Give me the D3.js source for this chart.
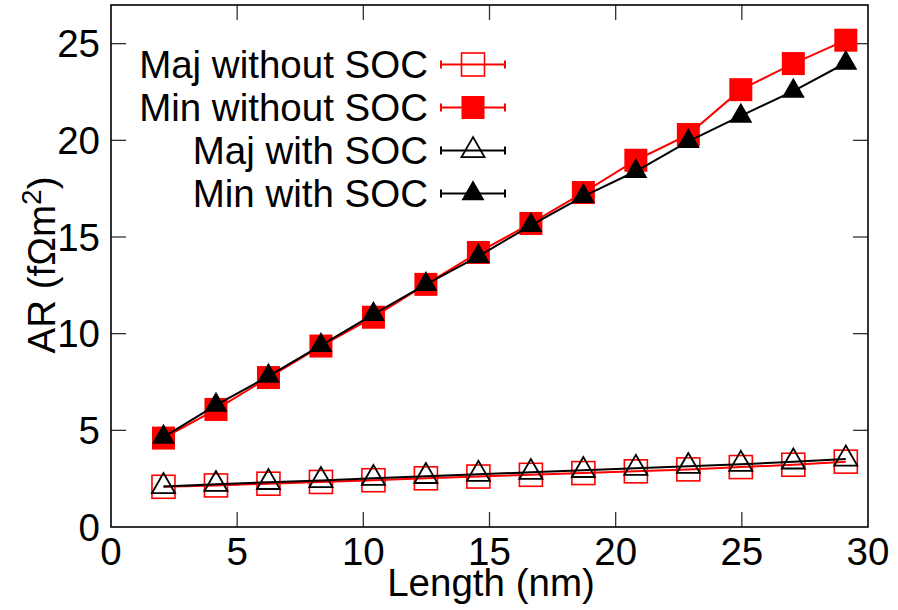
<!DOCTYPE html>
<html>
<head>
<meta charset="utf-8">
<script src="https://cdn.jsdelivr.net/npm/d3@7"></script>
<style>
  body { margin: 0; background: #fff; }
  svg { display: block; font-family: "Liberation Sans", Arial, sans-serif; }
</style>
</head>
<body>
<svg id="chart" width="898" height="610"></svg>
<script>
// lengths in nm
const lengths = [2.08, 4.16, 6.24, 8.32, 10.4, 12.48, 14.56, 16.64, 18.72, 20.8, 22.88, 24.96, 27.04, 29.12];

// AR values (fOhm m^2)
const majWithoutSOC = [2.08, 2.15, 2.24, 2.33, 2.42, 2.52, 2.61, 2.70, 2.79, 2.88, 2.98, 3.10, 3.22, 3.38];
const minWithoutSOC = [4.6, 6.08, 7.73, 9.36, 10.85, 12.55, 14.2, 15.7, 17.3, 18.97, 20.3, 22.62, 23.97, 25.18];
const majWithSOC = [2.10, 2.21, 2.31, 2.41, 2.52, 2.62, 2.73, 2.83, 2.93, 3.04, 3.14, 3.25, 3.37, 3.52];
const minWithSOC = [4.65, 6.3, 7.8, 9.4, 11.0, 12.55, 14.0, 15.6, 17.1, 18.4, 19.95, 21.26, 22.55, 24.0];

const xTicks = [0, 5, 10, 15, 20, 25, 30];
const yTicks = [0, 5, 10, 15, 20, 25];

const series = [
    { name: "Maj without SOC", values: majWithoutSOC, color: "#ff0000", shape: "square", filled: false },
    { name: "Min without SOC", values: minWithoutSOC, color: "#ff0000", shape: "square", filled: true },
    { name: "Maj with SOC", values: majWithSOC, color: "#000000", shape: "triangle", filled: false },
    { name: "Min with SOC", values: minWithSOC, color: "#000000", shape: "triangle", filled: true }
];

const svg = d3.select("#chart");
const margin = { left: 111, right: 868, top: 5, bottom: 527 };
const fontSize = 38.5;

const x = d3.scaleLinear().domain([0, 30]).range([margin.left, margin.right]);
const y = d3.scaleLinear().domain([0, 27]).range([margin.bottom, margin.top]);

// draw a marker centered on (cx, cy)
function drawMarker(g, s, cx, cy) {
    if (s.shape === "square") {
        const side = 23;
        g.append("rect")
            .attr("x", cx - side / 2)
            .attr("y", cy - side / 2)
            .attr("width", side)
            .attr("height", side)
            .attr("fill", s.filled ? s.color : "none")
            .attr("stroke", s.color)
            .attr("stroke-width", s.filled ? 0 : 1.6);
    } else {
        const h = 20, w = 23;
        const pts = [[cx, cy - h * 2 / 3], [cx - w / 2, cy + h / 3], [cx + w / 2, cy + h / 3]];
        g.append("path")
            .attr("d", "M" + pts.map(p => p.join(",")).join("L") + "Z")
            .attr("fill", s.filled ? s.color : "none")
            .attr("stroke", s.color)
            .attr("stroke-width", s.filled ? 0 : 1.8)
            .attr("stroke-linejoin", "miter");
    }
}

// ticks (mirrored on all four sides)
const tickLen = 15;
const ticks = svg.append("g").attr("stroke", "#333").attr("stroke-width", 1.3);
xTicks.slice(1, -1).forEach(t => {
    ticks.append("line").attr("x1", x(t)).attr("x2", x(t)).attr("y1", margin.bottom).attr("y2", margin.bottom - tickLen);
    ticks.append("line").attr("x1", x(t)).attr("x2", x(t)).attr("y1", margin.top).attr("y2", margin.top + tickLen);
});
yTicks.slice(1).forEach(t => {
    ticks.append("line").attr("x1", margin.left).attr("x2", margin.left + tickLen).attr("y1", y(t)).attr("y2", y(t));
    ticks.append("line").attr("x1", margin.right).attr("x2", margin.right - tickLen).attr("y1", y(t)).attr("y2", y(t));
});

// tick labels
svg.append("g").selectAll("text")
    .data(xTicks)
    .enter()
    .append("text")
    .attr("x", d => x(d))
    .attr("y", 565)
    .attr("text-anchor", "middle")
    .attr("font-size", fontSize)
    .text(d => d);

svg.append("g").selectAll("text")
    .data(yTicks)
    .enter()
    .append("text")
    .attr("x", 100)
    .attr("y", d => y(d) + 13.5)
    .attr("text-anchor", "end")
    .attr("font-size", fontSize)
    .text(d => d);

// data lines and markers
series.forEach(s => {
    const line = d3.line()
        .x((d, i) => x(lengths[i]))
        .y(d => y(d));
    svg.append("path")
        .datum(s.values)
        .attr("d", line)
        .attr("fill", "none")
        .attr("stroke", s.color)
        .attr("stroke-width", 2);
    const g = svg.append("g");
    s.values.forEach((v, i) => drawMarker(g, s, x(lengths[i]), y(v)));
});

// border
svg.append("rect")
    .attr("x", margin.left)
    .attr("y", margin.top)
    .attr("width", margin.right - margin.left)
    .attr("height", margin.bottom - margin.top)
    .attr("fill", "none")
    .attr("stroke", "#000")
    .attr("stroke-width", 1.6);

// legend
const legend = svg.append("g");
series.forEach((s, i) => {
    const ly = 64.5 + i * 43;
    legend.append("text")
        .attr("x", 428)
        .attr("y", ly + 13.5)
        .attr("text-anchor", "end")
        .attr("font-size", fontSize)
        .text(s.name);
    legend.append("line")
        .attr("x1", 441).attr("x2", 505)
        .attr("y1", ly).attr("y2", ly)
        .attr("stroke", s.color).attr("stroke-width", 2);
    [441, 505].forEach(cx => {
        legend.append("line")
            .attr("x1", cx).attr("x2", cx)
            .attr("y1", ly - 4).attr("y2", ly + 4)
            .attr("stroke", s.color).attr("stroke-width", 2);
    });
    drawMarker(legend, s, 473, ly);
});

// axis labels
svg.append("text")
    .attr("x", 491)
    .attr("y", 596)
    .attr("text-anchor", "middle")
    .attr("font-size", fontSize)
    .text("Length (nm)");

const yLabel = svg.append("text")
    .attr("transform", "translate(55,265) rotate(-90)")
    .attr("text-anchor", "middle")
    .attr("font-size", fontSize);
yLabel.append("tspan").text("AR (fΩm");
yLabel.append("tspan").attr("dy", -14).attr("font-size", 28).text("2");
yLabel.append("tspan").attr("dy", 14).text(")");
</script>
</body>
</html>
